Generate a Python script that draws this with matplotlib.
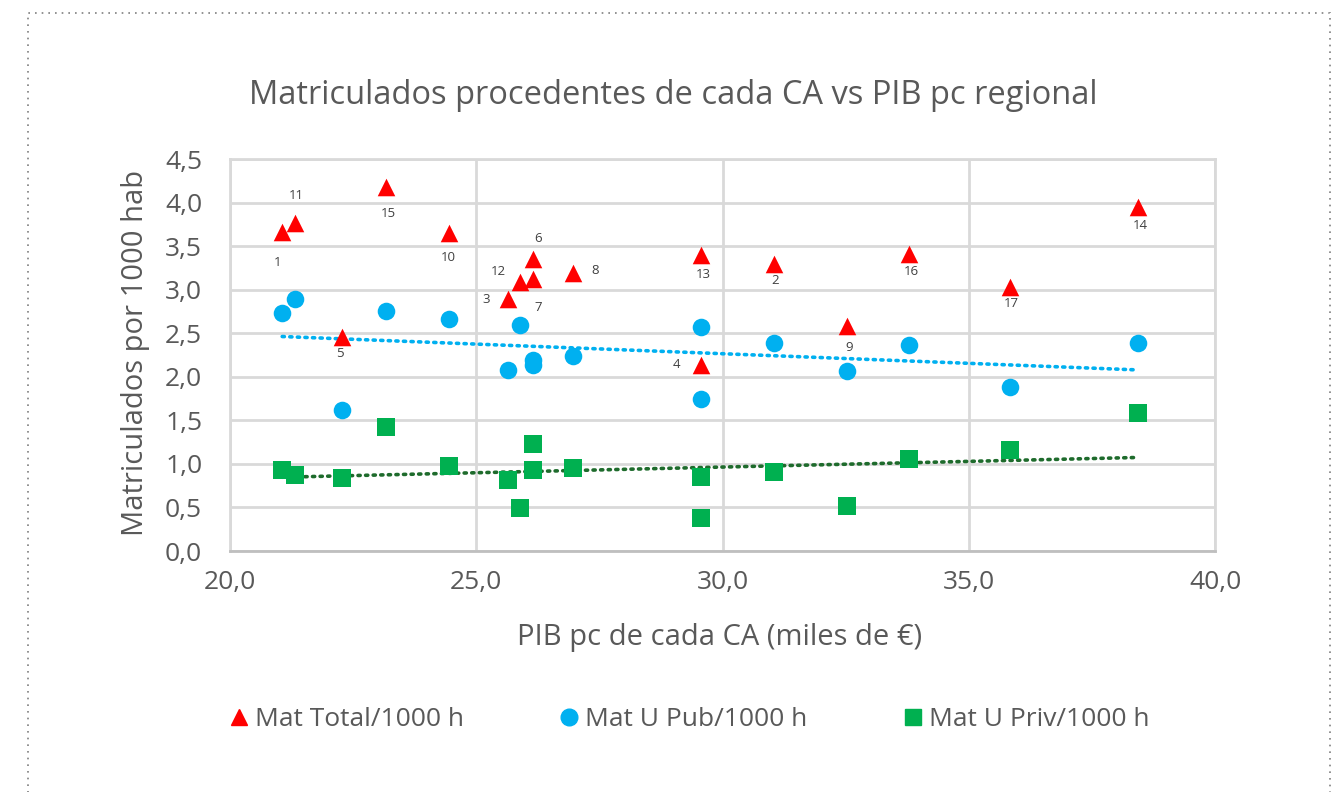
import numpy as np
import matplotlib
matplotlib.use("Agg")
import matplotlib.pyplot as plt
from matplotlib.patches import Rectangle
from matplotlib.lines import Line2D

# ---- data ----
labels = ["1", "11", "5", "15", "10", "3", "12", "6", "7", "8",
          "13", "4", "2", "9", "16", "17", "14"]
pib = [21.06, 21.32, 22.27, 23.17, 24.45, 25.64, 25.89, 26.15, 26.15, 26.96,
       29.57, 29.57, 31.05, 32.53, 33.79, 35.84, 38.44]
mat_total = [3.66, 3.77, 2.46, 4.18, 3.65, 2.89, 3.09, 3.35, 3.12, 3.19,
             3.40, 2.14, 3.30, 2.58, 3.41, 3.03, 3.95]
mat_pub = [2.73, 2.89, 1.62, 2.76, 2.66, 2.08, 2.59, 2.13, 2.19, 2.24,
           2.57, 1.75, 2.39, 2.07, 2.36, 1.88, 2.39]
mat_priv = [0.93, 0.87, 0.84, 1.42, 0.98, 0.81, 0.49, 1.23, 0.93, 0.95,
            0.85, 0.38, 0.91, 0.52, 1.06, 1.16, 1.58]
x_ticks = [20.0, 25.0, 30.0, 35.0, 40.0]
y_ticks = [0.0, 0.5, 1.0, 1.5, 2.0, 2.5, 3.0, 3.5, 4.0, 4.5]
series_names = ["Mat Total/1000 h", "Mat U Pub/1000 h", "Mat U Priv/1000 h"]

# label offsets in pixels (dx, dy with dy positive downward) - style only
label_offsets = {"1": (-5, 30), "11": (1, -27), "5": (-2, 17), "15": (2, 27),
                 "10": (-1, 24), "3": (-22, 0), "12": (-22, -10), "6": (5, -21),
                 "7": (5, 28), "8": (22, -3), "13": (2, 20), "4": (-25, 0),
                 "2": (1, 17), "9": (2, 21), "16": (2, 18), "17": (1, 16),
                 "14": (2, 19)}

FONT = "Open Sans"
TXT = "#595959"
plt.rcParams["font.family"] = [FONT, "DejaVu Sans"]

W, H = 1340, 792
fig = plt.figure(figsize=(W / 100, H / 100), dpi=100)
ax = fig.add_axes([230 / W, 1 - 551 / H, (1215 - 230) / W, (551 - 159) / H])

# dotted outer border
fig.patches.append(Rectangle((28 / W, -0.05), (1330 - 28) / W, 1 - 13 / H + 0.05,
                             transform=fig.transFigure, fill=False,
                             edgecolor="#7F7F7F", linestyle=(0, (1, 3)), lw=1.2))

ax.set_xlim(20, 40)
ax.set_ylim(0, 4.5)
ax.set_xticks(x_ticks)
ax.set_yticks(y_ticks)
ax.set_xticklabels([f"{v:.1f}".replace(".", ",") for v in x_ticks])
ax.set_yticklabels([f"{v:.1f}".replace(".", ",") for v in y_ticks])
ax.tick_params(length=0, labelsize=19, colors=TXT)
ax.tick_params(axis="y", pad=20)
ax.tick_params(axis="x", pad=14)
ax.grid(True, color="#D9D9D9", lw=2)
ax.set_axisbelow(True)
for s in ["top", "right", "left"]:
    ax.spines[s].set_color("#D9D9D9")
    ax.spines[s].set_linewidth(2)
ax.spines["bottom"].set_color("#BFBFBF")
ax.spines["bottom"].set_linewidth(2)

ms = 160
ax.scatter(pib, mat_total, marker="^", s=ms, color="#FF0000", zorder=3, linewidths=0)
ax.scatter(pib, mat_pub, marker="o", s=ms, color="#00B0F0", zorder=3, linewidths=0)
ax.scatter(pib, mat_priv, marker="s", s=ms, color="#00B050", zorder=3, linewidths=0)

# linear trend lines
xs = np.array([min(pib), max(pib)])
for yv, col in [(mat_pub, "#00B0F0"), (mat_priv, "#1E6B2C")]:
    k, b = np.polyfit(pib, yv, 1)
    ax.plot(xs, k * xs + b, color=col, lw=2.6, linestyle=(0, (0.6, 1.5)),
            dash_capstyle="round", zorder=2)

for lab, x, y in zip(labels, pib, mat_total):
    dx, dy = label_offsets[lab]
    ax.annotate(lab, (x, y), xytext=(dx * 0.72, -dy * 0.72), textcoords="offset points",
                ha="center", va="center", fontsize=9.5, color="#404040")

fig.text(673 / W, 1 - 95 / H, "Matriculados procedentes de cada CA vs PIB pc regional",
         ha="center", va="center", fontsize=23.5, color=TXT)
fig.text(720 / W, 1 - 637 / H, "PIB pc de cada CA (miles de €)",
         ha="center", va="center", fontsize=21, color=TXT)
fig.text(135 / W, 1 - 353 / H, "Matriculados por 1000 hab", rotation=90,
         ha="center", va="center", fontsize=21, color=TXT)

handles = [
    Line2D([], [], marker="^", color="#FF0000", ls="none", markersize=12),
    Line2D([], [], marker="o", color="#00B0F0", ls="none", markersize=12),
    Line2D([], [], marker="s", color="#00B050", ls="none", markersize=12),
]
leg = fig.legend(handles, series_names, loc="center", bbox_to_anchor=(690 / W, 1 - 720 / H),
                 ncol=3, frameon=False, fontsize=19, handlelength=0.6, handletextpad=0.3,
                 columnspacing=3.7, labelcolor=TXT)

fig.savefig("out.png", dpi=100)
